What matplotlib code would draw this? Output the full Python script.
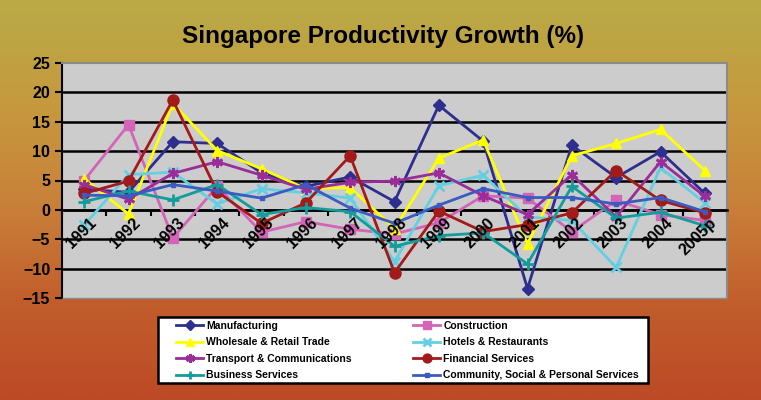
import numpy as np
import matplotlib
matplotlib.use('Agg')
import matplotlib.pyplot as plt
from matplotlib import patches
from matplotlib.colors import LinearSegmentedColormap

years = ['1991', '1992', '1993', '1994', '1995', '1996', '1997', '1998',
         '1999', '2000', '2001', '2002', '2003', '2004', '2005p']

manufacturing = [3.5, 3.0, 11.6, 11.3, 6.3, 4.0, 5.6, 1.4, 17.8, 11.7, -13.4, 11.0, 5.5, 9.9, 2.8]
construction = [5.0, 14.5, -4.8, 4.0, -3.8, -2.0, -3.3, -4.1, -2.2, 2.4, 2.0, -3.7, 1.6, -0.8, -1.8]
wholesale = [5.3, -0.7, 18.1, 10.1, 7.0, 3.6, 3.8, -3.2, 8.8, 11.9, -5.8, 9.2, 11.3, 13.7, 6.7]
hotels = [-2.6, 6.0, 6.4, 1.0, 3.6, 2.9, 2.0, -8.8, 4.1, 5.9, -1.2, -1.8, -9.8, 7.2, 1.2]
transport = [4.3, 1.8, 6.2, 8.2, 5.9, 3.5, 4.7, 4.9, 6.3, 2.4, -0.8, 6.0, -1.2, 8.2, 2.3]
financial = [2.8, 4.9, 18.7, 3.1, -2.3, 1.2, 9.2, -10.7, -0.2, -3.7, -2.5, -0.5, 6.7, 1.6, -0.5]
business = [1.4, 3.2, 1.7, 4.3, -0.8, 0.4, -0.3, -6.2, -4.4, -3.9, -9.2, 4.0, -1.4, -0.4, -2.7]
community = [2.5, 2.4, 4.3, 3.2, 2.0, 4.3, 0.3, -2.3, 0.8, 3.6, 2.1, 2.1, 1.0, 2.1, -0.3]

series = [
    ('Manufacturing', manufacturing, '#2E2E8E', 'D', 6),
    ('Construction', construction, '#D364B8', 's', 7),
    ('Wholesale & Retail Trade', wholesale, '#FFFF00', '^', 7),
    ('Hotels & Restaurants', hotels, '#62D0E2', 'x', 7),
    ('Transport & Communications', transport, '#9A2D9A', (6, 2, 0), 8),
    ('Financial Services', financial, '#A31A1A', 'o', 8),
    ('Business Services', business, '#149C9C', '+', 8),
    ('Community, Social & Personal Services', community, '#3A5BC0', 's', 3),
]

plt.rcParams['font.family'] = ['Liberation Sans', 'DejaVu Sans']

fig = plt.figure(figsize=(7.61, 4.0), dpi=100)

# gradient background
bg = fig.add_axes([0, 0, 1, 1], zorder=-10)
cmap = LinearSegmentedColormap.from_list('bg', ['#B9AB47', '#C69A3E', '#C9823A', '#C25E2C', '#BC4A26'])
bg.imshow(np.linspace(0, 1, 256).reshape(-1, 1), aspect='auto', cmap=cmap, extent=[0, 1, 0, 1])
bg.axis('off')

ax = fig.add_axes([62 / 761, 1 - 298 / 400, (727 - 62) / 761, (298 - 63) / 400])
ax.set_facecolor('#CCCCCC')
x = np.arange(len(years))

for name, vals, color, marker, ms in series:
    mew = 2 if marker in ('x', '+') or isinstance(marker, tuple) else 1
    ax.plot(x, vals, color=color, marker=marker, markersize=ms, linewidth=2,
            markeredgewidth=mew, label=name, zorder=3)

ax.set_xlim(-0.5, len(years) - 0.5)
ax.set_ylim(-15, 25)
ax.set_yticks(range(-15, 26, 5))
for yv in range(-10, 25, 5):
    ax.axhline(yv, color='black', linewidth=1.8, zorder=1)

# category axis crosses at 0
ax.spines['bottom'].set_position(('data', 0))
ax.spines['bottom'].set_color('black')
ax.spines['bottom'].set_linewidth(1.8)
ax.set_xticks(np.arange(len(years) + 1) - 0.5)
ax.set_xticklabels([])
ax.tick_params(axis='x', direction='out', length=4, width=1.5, color='black')
for i, yr in enumerate(years):
    ax.text(i + 0.1, -0.9, yr, rotation=45, ha='right', va='top', rotation_mode='anchor',
            fontsize=11.5, fontweight='bold', color='black', zorder=4)

ax.spines['top'].set_color('#8A8A8A')
ax.spines['right'].set_color('#8A8A8A')
ax.spines['top'].set_linewidth(1.5)
ax.spines['right'].set_linewidth(1.5)
ax.spines['left'].set_color('black')
ax.spines['left'].set_linewidth(1.5)
ax.add_patch(patches.Rectangle((0, 0), 1, 0.002, transform=ax.transAxes, color='#8A8A8A',
                               clip_on=False, zorder=5))
ax.tick_params(axis='y', direction='out', length=5, width=1.5, labelsize=11.5)
for lbl in ax.get_yticklabels():
    lbl.set_fontweight('bold')

fig.text(0.503, 1 - 37 / 400, 'Singapore Productivity Growth (%)', ha='center', va='center',
         fontsize=17.5, fontweight='bold', color='black')

# legend box drawn separately so the columns can sit where they do in the original
box = patches.Rectangle((158 / 761, 17 / 400), (648 - 158) / 761, (383 - 317) / 400,
                        transform=fig.transFigure, facecolor='white', edgecolor='black',
                        linewidth=1.8, zorder=1)
fig.patches.append(box)

handles, labels = ax.get_legend_handles_labels()
order = [0, 2, 4, 6, 1, 3, 5, 7]
leg = fig.legend([handles[i] for i in order], [labels[i] for i in order], ncol=2,
                 loc='upper left', bbox_to_anchor=(176 / 761, 1 - 321 / 400),
                 prop={'size': 7.5, 'weight': 'bold'}, frameon=False,
                 borderaxespad=0, borderpad=0, labelspacing=0.62, handlelength=2.6,
                 handletextpad=0.3, columnspacing=5.9, markerscale=0.8)
leg.set_zorder(2)

fig.savefig('out.png', dpi=100)
